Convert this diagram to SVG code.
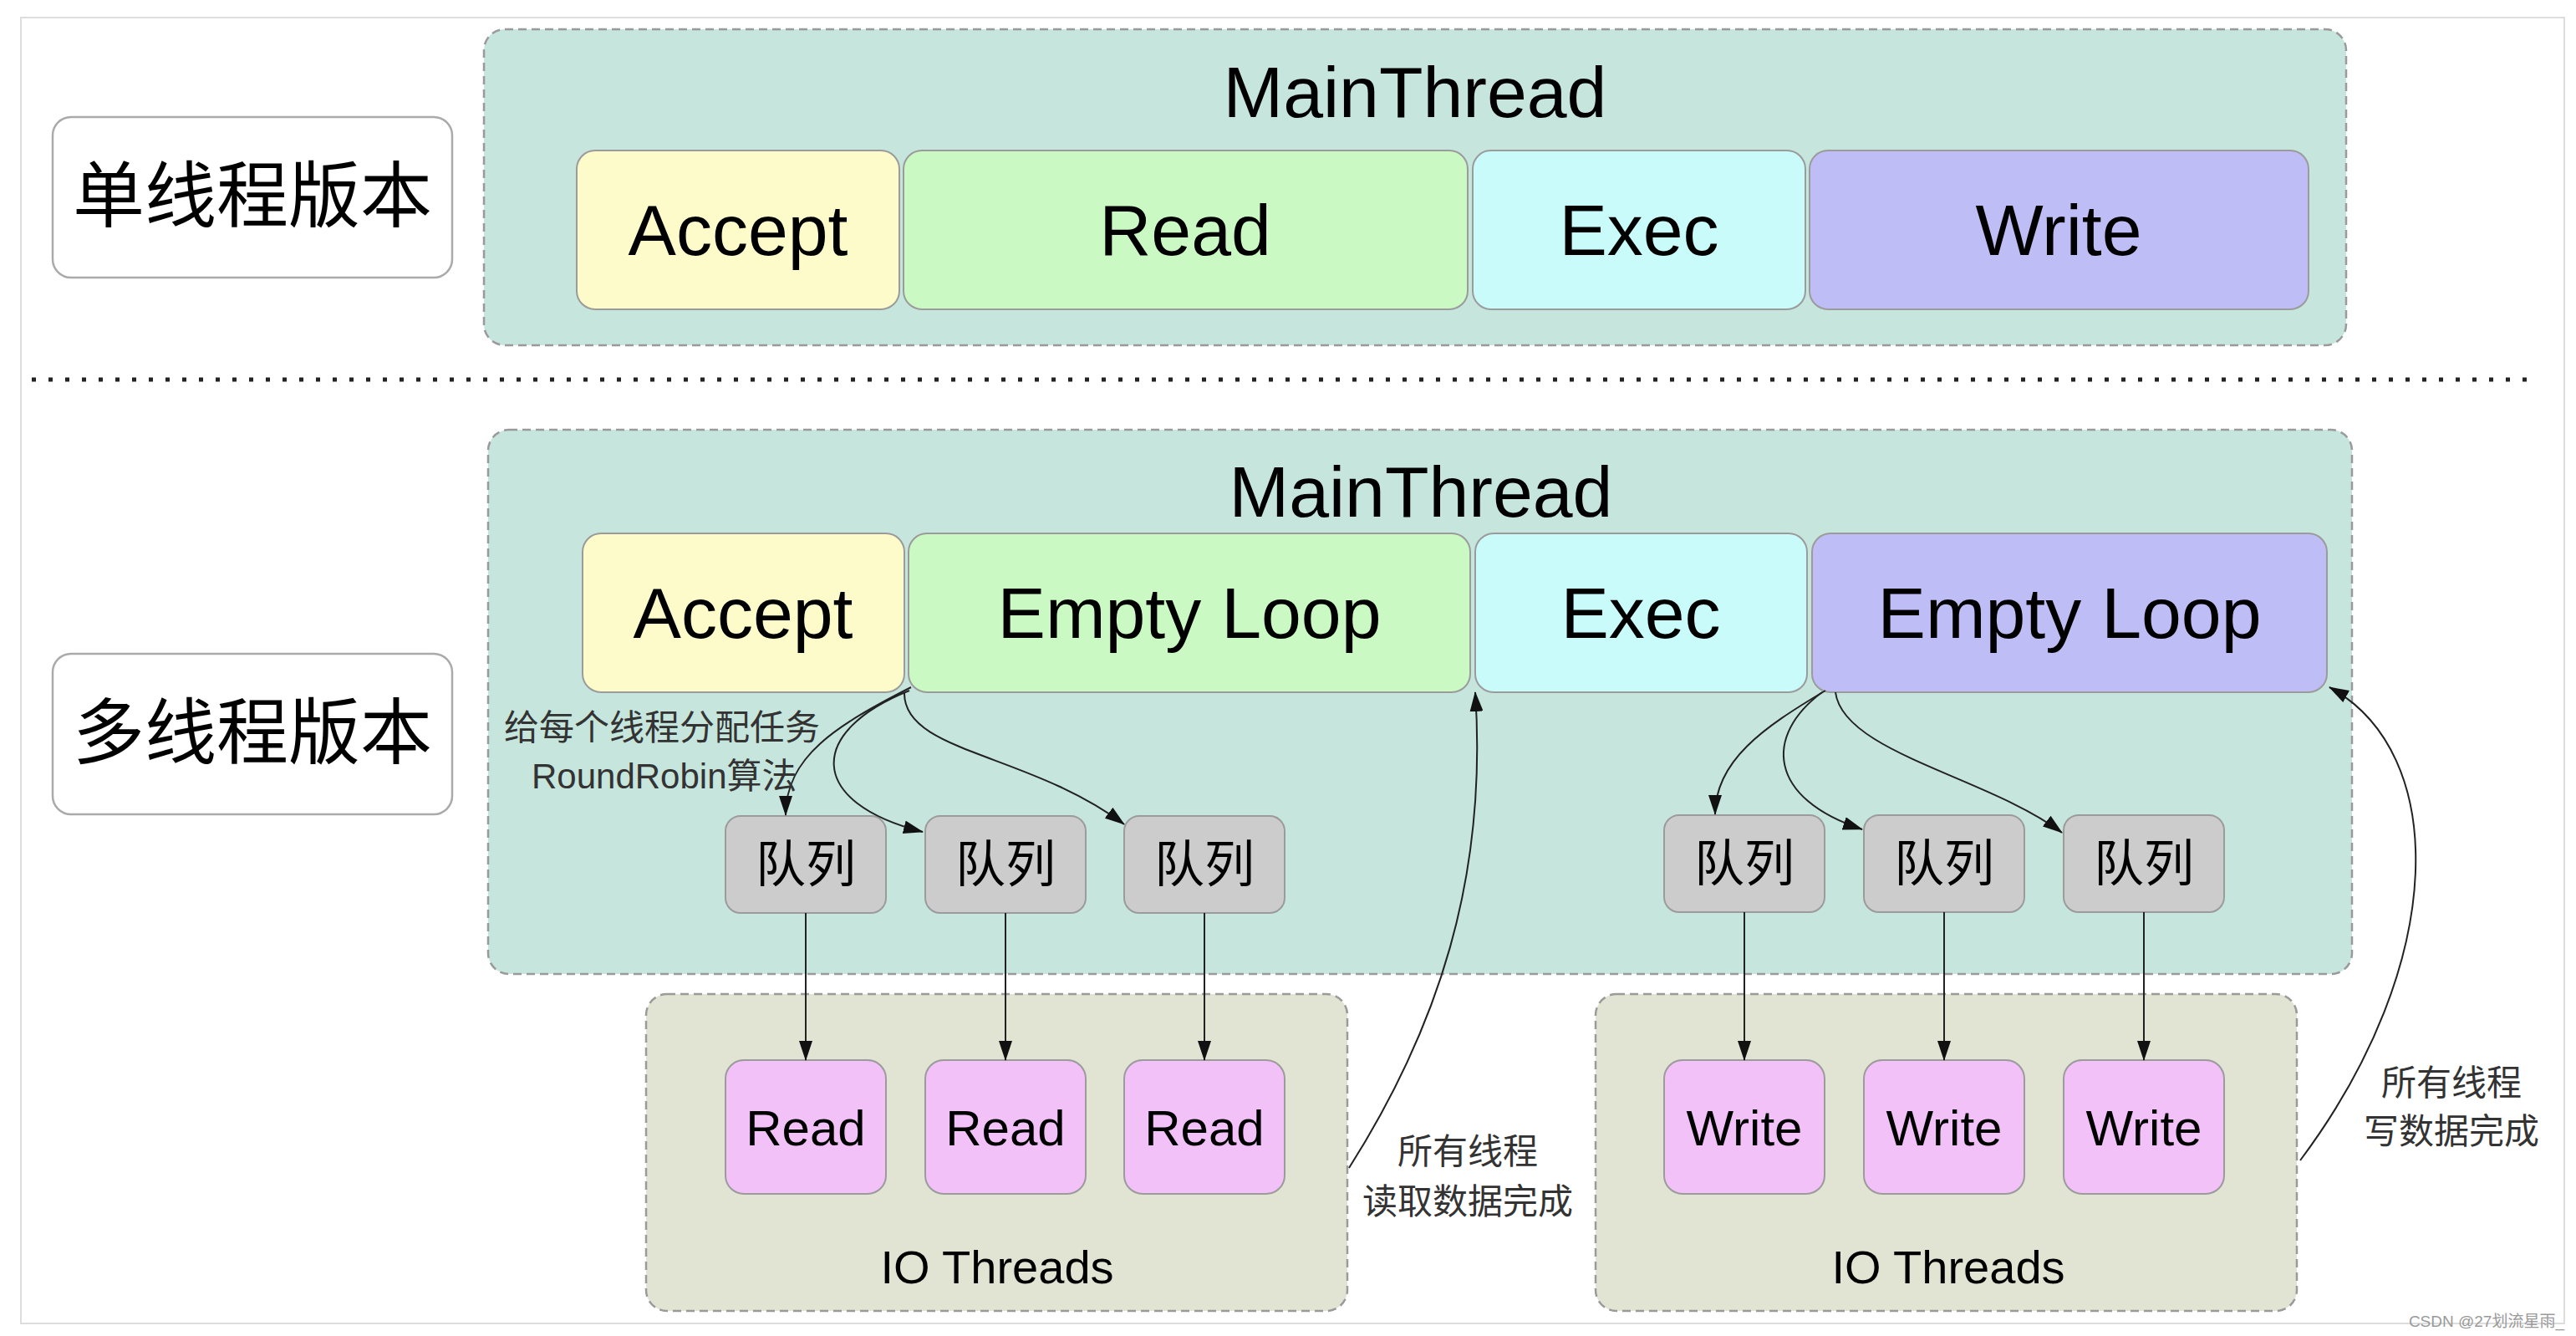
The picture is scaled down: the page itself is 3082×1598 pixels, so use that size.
<svg xmlns="http://www.w3.org/2000/svg" width="3082" height="1598" viewBox="0 0 3082 1598">
<defs>
<style>
.frame{fill:#ffffff;stroke:#dddddd;stroke-width:2}
.sep{fill:none;stroke:#222;stroke-width:5;stroke-dasharray:5 15}
.main{fill:#c6e5dd;stroke:#9a9a9a;stroke-width:2.5;stroke-dasharray:10 6}
.io{fill:#e1e3d3;stroke:#9a9a9a;stroke-width:2.5;stroke-dasharray:10 6}
.box{stroke:#9b9b9b;stroke-width:2}
.label{fill:#ffffff;stroke:#aaaaaa;stroke-width:2.5}
.acc{fill:#fefbca}
.grn{fill:#cbf9c4}
.cyn{fill:#c9fbfb}
.pur{fill:#bfbdf5}
.que{fill:#cccccc}
.pnk{fill:#f2c1f8}
.t{font-family:"Liberation Sans","Noto Sans CJK SC",sans-serif;fill:#000;text-anchor:middle}
.big{font-size:86px}
.io-t{font-size:60px}
.cap{font-size:56px}
.cjk{font-family:"Liberation Sans","Noto Sans CJK SC",sans-serif;fill:#000;text-anchor:middle;dominant-baseline:central}
.note{font-family:"Liberation Sans","Noto Sans CJK SC",sans-serif;fill:#333;font-size:42px}
.conn{fill:none;stroke:#222;stroke-width:2}
</style>
<marker id="arr" markerUnits="userSpaceOnUse" markerWidth="24" markerHeight="16" refX="23" refY="8" orient="auto">
<path d="M0,0 L24,8 L0,16 z" fill="#111"/>
</marker>
</defs>

<rect class="frame" x="25" y="21" width="3043" height="1562"/>
<line class="sep" x1="38" y1="454" x2="3035" y2="454"/>

<g id="label-single">
<rect class="label" x="63" y="140" width="478" height="192" rx="22"/>
<text class="cjk" x="302" y="235" font-size="86">单线程版本</text>
</g>
<g id="label-multi">
<rect class="label" x="63" y="782" width="478" height="192" rx="22"/>
<text class="cjk" x="302" y="877" font-size="86">多线程版本</text>
</g>

<g id="mainthread-single">
<rect class="main" x="579" y="35" width="2228" height="378" rx="25"/>
<text class="t big" x="1693" y="140">MainThread</text>
</g>
<g id="s-accept"><rect class="box acc" x="690" y="180" width="386" height="190" rx="22"/><text class="t big" x="883" y="305">Accept</text></g>
<g id="s-read"><rect class="box grn" x="1081" y="180" width="675" height="190" rx="22"/><text class="t big" x="1418" y="305">Read</text></g>
<g id="s-exec"><rect class="box cyn" x="1762" y="180" width="398" height="190" rx="22"/><text class="t big" x="1961" y="305">Exec</text></g>
<g id="s-write"><rect class="box pur" x="2165" y="180" width="597" height="190" rx="22"/><text class="t big" x="2463" y="305">Write</text></g>

<g id="mainthread-multi">
<rect class="main" x="584" y="514" width="2230" height="651" rx="25"/>
<text class="t big" x="1700" y="618">MainThread</text>
</g>
<g id="io-read-group">
<rect class="io" x="773" y="1189" width="839" height="379" rx="25"/>
<text class="t cap" x="1193" y="1535">IO Threads</text>
</g>
<g id="io-write-group">
<rect class="io" x="1909" y="1189" width="839" height="379" rx="25"/>
<text class="t cap" x="2331" y="1535">IO Threads</text>
</g>

<g id="m-accept"><rect class="box acc" x="697" y="638" width="385" height="190" rx="22"/><text class="t big" x="889" y="763">Accept</text></g>
<g id="m-loop1"><rect class="box grn" x="1087" y="638" width="672" height="190" rx="22"/><text class="t big" x="1423" y="763">Empty Loop</text></g>
<g id="m-exec"><rect class="box cyn" x="1765" y="638" width="397" height="190" rx="22"/><text class="t big" x="1963" y="763">Exec</text></g>
<g id="m-loop2"><rect class="box pur" x="2168" y="638" width="616" height="190" rx="22"/><text class="t big" x="2476" y="763">Empty Loop</text></g>

<g id="q1"><rect class="box que" x="868" y="976" width="192" height="116" rx="18"/><text class="cjk" x="964" y="1034" font-size="60">队列</text></g>
<g id="q2"><rect class="box que" x="1107" y="976" width="192" height="116" rx="18"/><text class="cjk" x="1203" y="1034" font-size="60">队列</text></g>
<g id="q3"><rect class="box que" x="1345" y="976" width="192" height="116" rx="18"/><text class="cjk" x="1441" y="1034" font-size="60">队列</text></g>
<g id="q4"><rect class="box que" x="1991" y="975" width="192" height="116" rx="18"/><text class="cjk" x="2087" y="1033" font-size="60">队列</text></g>
<g id="q5"><rect class="box que" x="2230" y="975" width="192" height="116" rx="18"/><text class="cjk" x="2326" y="1033" font-size="60">队列</text></g>
<g id="q6"><rect class="box que" x="2469" y="975" width="192" height="116" rx="18"/><text class="cjk" x="2565" y="1033" font-size="60">队列</text></g>

<g id="r1"><rect class="box pnk" x="868" y="1268" width="192" height="160" rx="22"/><text class="t io-t" x="964" y="1370">Read</text></g>
<g id="r2"><rect class="box pnk" x="1107" y="1268" width="192" height="160" rx="22"/><text class="t io-t" x="1203" y="1370">Read</text></g>
<g id="r3"><rect class="box pnk" x="1345" y="1268" width="192" height="160" rx="22"/><text class="t io-t" x="1441" y="1370">Read</text></g>
<g id="w1"><rect class="box pnk" x="1991" y="1268" width="192" height="160" rx="22"/><text class="t io-t" x="2087" y="1370">Write</text></g>
<g id="w2"><rect class="box pnk" x="2230" y="1268" width="192" height="160" rx="22"/><text class="t io-t" x="2326" y="1370">Write</text></g>
<g id="w3"><rect class="box pnk" x="2469" y="1268" width="192" height="160" rx="22"/><text class="t io-t" x="2565" y="1370">Write</text></g>

<g id="connectors">
<path class="conn" marker-end="url(#arr)" d="M1090,822 C1000,868 940,905 940,975"/>
<path class="conn" marker-end="url(#arr)" d="M1088,826 C965,875 965,960 1104,995"/>
<path class="conn" marker-end="url(#arr)" d="M1082,828 C1080,900 1230,900 1345,986"/>
<path class="conn" marker-end="url(#arr)" d="M2184,826 C2110,870 2052,910 2052,974"/>
<path class="conn" marker-end="url(#arr)" d="M2180,828 C2110,880 2115,955 2228,992"/>
<path class="conn" marker-end="url(#arr)" d="M2196,828 C2205,900 2380,930 2467,996"/>
<path class="conn" marker-end="url(#arr)" d="M964,1092 L964,1268"/>
<path class="conn" marker-end="url(#arr)" d="M1203,1092 L1203,1268"/>
<path class="conn" marker-end="url(#arr)" d="M1441,1092 L1441,1268"/>
<path class="conn" marker-end="url(#arr)" d="M2087,1091 L2087,1268"/>
<path class="conn" marker-end="url(#arr)" d="M2326,1091 L2326,1268"/>
<path class="conn" marker-end="url(#arr)" d="M2565,1091 L2565,1268"/>
<path class="conn" marker-end="url(#arr)" d="M1614,1397 C1720,1230 1780,1050 1765,828"/>
<path class="conn" marker-end="url(#arr)" d="M2752,1388 C2930,1150 2930,900 2787,822"/>
</g>

<g id="annotations">
<text class="note" x="603" y="870" dominant-baseline="central">给每个线程分配任务</text>
<text class="note" x="636" y="943" font-size="41">RoundRobin算法</text>
<text class="note" x="1756" y="1377" text-anchor="middle" dominant-baseline="central">所有线程</text>
<text class="note" x="1756" y="1437" text-anchor="middle" dominant-baseline="central">读取数据完成</text>
<text class="note" x="2933" y="1295" text-anchor="middle" dominant-baseline="central">所有线程</text>
<text class="note" x="2933" y="1353" text-anchor="middle" dominant-baseline="central">写数据完成</text>
<text x="3068" y="1587" text-anchor="end" font-family="Liberation Sans,Noto Sans CJK SC,sans-serif" font-size="19" fill="#9a9a9a">CSDN @27划流星雨_</text>
</g>
</svg>
